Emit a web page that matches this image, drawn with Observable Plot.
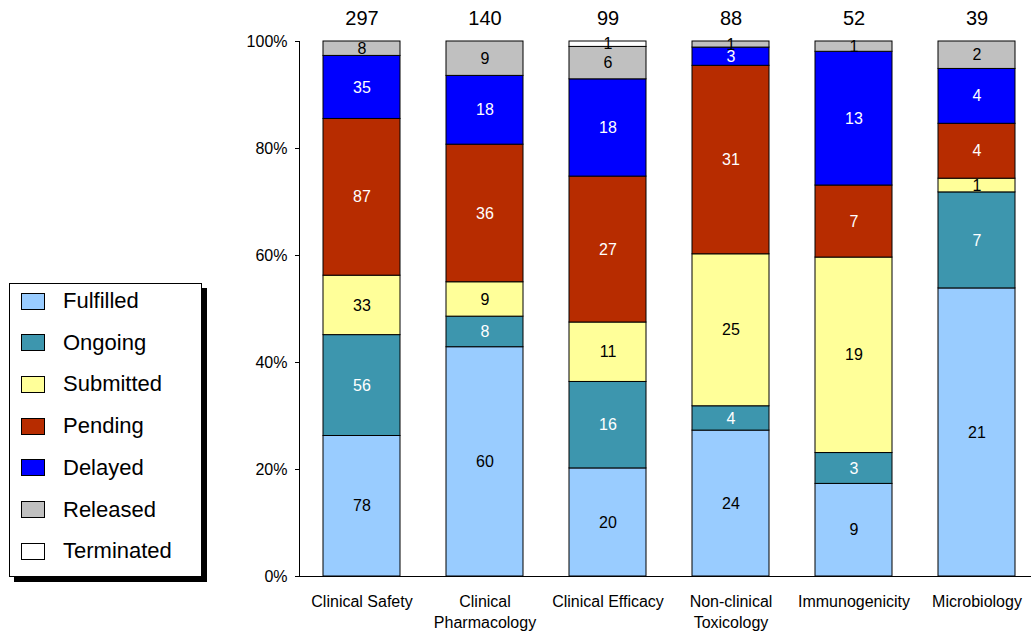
<!DOCTYPE html>
<html>
<head>
<meta charset="utf-8">
<script src="https://cdn.jsdelivr.net/npm/d3@7"></script>
<script src="https://cdn.jsdelivr.net/npm/@observablehq/plot@0.6"></script>
<style>
  body { margin: 0; background: #fff; font-family: "Liberation Sans", Arial, sans-serif; }
  #wrap { position: relative; width: 1031px; height: 632px; }
  #legend {
    position: absolute; left: 9px; top: 283px; width: 193px; height: 294px;
    border: 1px solid #000; background: #fff; box-shadow: 5px 5px 0 #000; box-sizing: border-box;
  }
  .item { position: absolute; left: 11px; height: 26px; display: flex; align-items: center; font-size: 22px; color: #000; }
  .sw { width: 24px; height: 17px; border: 1px solid #000; box-sizing: border-box; margin-right: 18px; }
</style>
</head>
<body>
<div id="wrap">
  <div id="chart"></div>
  <div id="legend"></div>
</div>
<script>
// Study commitments by discipline, split by status
const categories = ["Clinical Safety", "Clinical\nPharmacology", "Clinical Efficacy", "Non-clinical\nToxicology", "Immunogenicity", "Microbiology"];
const statuses = ["Fulfilled", "Ongoing", "Submitted", "Pending", "Delayed", "Released", "Terminated"];
const statusColors = ["#99ccff", "#3d96ae", "#ffff99", "#b72c00", "#0000ff", "#c0c0c0", "#ffffff"];

const fulfilled  = [78, 60, 20, 24, 9, 21];
const ongoing    = [56, 8, 16, 4, 3, 7];
const submitted  = [33, 9, 11, 25, 19, 1];
const pending    = [87, 36, 27, 31, 7, 4];
const delayed    = [35, 18, 18, 3, 13, 4];
const released   = [8, 9, 6, 1, 1, 2];
const terminated = [0, 0, 1, 0, 0, 0];
const totals     = [297, 140, 99, 88, 52, 39];

const yTicks = [0, 0.2, 0.4, 0.6, 0.8, 1];
const whiteLabelled = new Set(["Ongoing", "Pending", "Delayed"]);

const series = [fulfilled, ongoing, submitted, pending, delayed, released, terminated];
const rows = [];
series.forEach((values, s) => values.forEach((v, c) => {
  if (v > 0) rows.push({category: categories[c], status: statuses[s], count: v});
}));
const totalRows = categories.map((c, i) => ({category: c, total: totals[i]}));

const stacked = (extra) => Plot.stackY({x: "category", y: "count", z: "status", offset: "normalize", ...extra});

// left axis line along the frame edge
function yAxisLine(index, scales, values, dimensions) {
  const y = scales.y;
  return d3.create("svg:line")
    .attr("x1", dimensions.marginLeft - 0.5).attr("x2", dimensions.marginLeft - 0.5)
    .attr("y1", y(0)).attr("y2", y(1))
    .attr("stroke", "#000").node();
}

const chart = Plot.plot({
  width: 1031,
  height: 632,
  marginTop: 41,
  marginBottom: 56,
  marginLeft: 300,
  marginRight: 0,
  style: {fontFamily: '"Liberation Sans", Arial, sans-serif', fontSize: "16px", color: "#000", background: "#fff", overflow: "visible"},
  x: {domain: categories, range: [300, 1038], paddingInner: 0.374, paddingOuter: 0.187, axis: null},
  y: {domain: [0, 1], axis: null},
  color: {domain: statuses, range: statusColors},
  marks: [
    Plot.barY(rows, stacked({fill: "status", stroke: "#000", strokeWidth: 1})),
    Plot.text(rows, stacked({text: d => whiteLabelled.has(d.status) ? d.count : null, fill: "#fff", fontSize: 16})),
    Plot.text(rows, stacked({text: d => whiteLabelled.has(d.status) ? null : d.count, fill: "#000", fontSize: 16})),
    Plot.text(totalRows, {x: "category", y: () => 1, text: "total", dy: -23, fontSize: 20, fill: "#000"}),
    Plot.ruleY([0], {stroke: "#000"}),
    yAxisLine,
    Plot.axisY({ticks: yTicks, tickFormat: d => `${Math.round(d * 100)}%`, tickSize: 5, tickPadding: 8, fontSize: 16, label: null, stroke: "#000"}),
    Plot.axisX({tickSize: 0, tickPadding: 16, fontSize: 16, lineHeight: 1.3, label: null})
  ]
});
document.getElementById("chart").appendChild(chart);

// legend box with swatches
const legend = d3.select("#legend");
statuses.forEach((s, i) => {
  const item = legend.append("div").attr("class", "item").style("top", `${4 + i * 41.7}px`);
  item.append("div").attr("class", "sw").style("background", statusColors[i]);
  item.append("span").text(s);
});
</script>
</body>
</html>
